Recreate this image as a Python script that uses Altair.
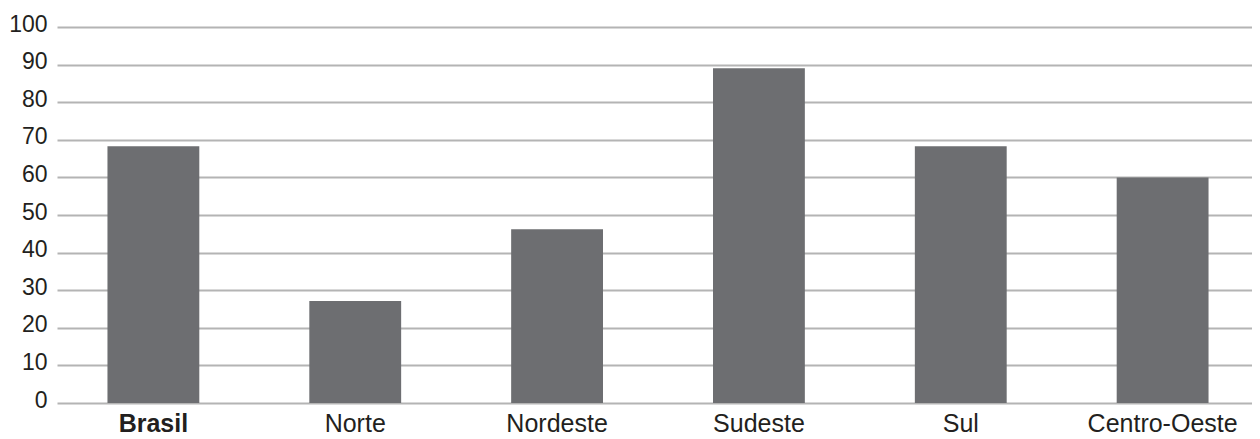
import altair as alt
import pandas as pd

regions = ["Brasil", "Norte", "Nordeste", "Sudeste", "Sul", "Centro-Oeste"]
values = [68.3, 27.1, 46.2, 89.0, 68.3, 60.0]
y_ticks = list(range(0, 101, 10))

df = pd.DataFrame({"regiao": regions, "valor": values})

FONT = "Liberation Sans, Arial, sans-serif"

chart = alt.Chart(df).mark_bar(color="#6d6e71").encode(
    x=alt.X(
        "regiao:N",
        sort=regions,
        scale=alt.Scale(range=[0, 1202], paddingInner=0.545, paddingOuter=0.25),
        axis=alt.Axis(
            title=None,
            labelAngle=0,
            domain=False,
            ticks=False,
            grid=False,
            labelFont=FONT,
            labelFontSize=25,
            labelLimit=0,
            labelColor="#231f20",
            labelBaseline="alphabetic",
            labelPadding=28,
            labelFontWeight={"condition": {"test": "datum.value === 'Brasil'", "value": "bold"}, "value": "normal"},
        ),
    ),
    y=alt.Y(
        "valor:Q",
        scale=alt.Scale(domain=[0, 100], nice=False),
        axis=alt.Axis(
            title=None,
            values=y_ticks,
            domain=False,
            ticks=False,
            tickSize=0,
            grid=True,
            gridColor="#b4b4b4",
            gridWidth=2,
            labelFont=FONT,
            labelFontSize=23,
            labelColor="#231f20",
            labelPadding=10,
            labelBaseline="middle",
            labelOffset=-3,
        ),
    ),
).properties(
    width=1195,
    height=376,
    autosize=alt.AutoSizeParams(type="none"),
    padding={"left": 49, "top": 19, "right": 0, "bottom": 36},
).configure_view(stroke=None)

chart.save("out.html", embed_options={"renderer": "svg", "actions": False})
